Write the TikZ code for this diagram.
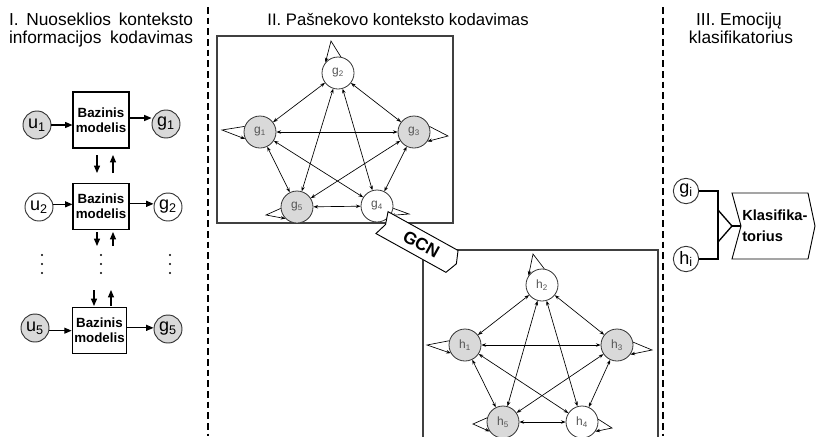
\documentclass[tikz,border=0pt]{standalone}
\usepackage{fontspec}
\setmainfont{Liberation Sans}
\usetikzlibrary{arrows.meta}

\definecolor{nodegray}{HTML}{D9D9D9}
\definecolor{linegray}{HTML}{333333}
\definecolor{labelgray}{HTML}{555555}

\tikzset{
  title/.style={font=\fontsize{13}{13}\selectfont, inner sep=0, anchor=base},
  seqnode/.style={circle, draw=linegray, line width=0.7pt, minimum size=21pt,
    inner sep=0, font=\fontsize{13.5}{13.5}\selectfont},
  grayfill/.style={fill=nodegray},
  basebox/.style={draw, line width=0.8pt, minimum width=42pt, minimum height=35pt,
    align=center, inner sep=0, font=\bfseries\fontsize{10}{11.5}\selectfont},
  seqarrow/.style={-{Triangle[length=5.5pt,width=4.5pt]}, line width=0.8pt},
  gnode/.style={circle, draw=linegray, line width=0.6pt, minimum size=24pt,
    inner sep=0, text=labelgray, font=\fontsize{9}{9}\selectfont},
  gedge/.style={{Stealth[length=3.5pt,width=2.6pt]}-{Stealth[length=3.5pt,width=2.6pt]},
    line width=0.5pt},
  gloop/.style={-{Stealth[length=3.5pt,width=2.6pt]}, line width=0.5pt},
  graphframe/.style={draw=black!75, line width=0.8pt},
  divider/.style={line width=1.5pt, dash pattern=on 5pt off 3pt},
  joinline/.style={line width=1pt},
}

\begin{document}
\begin{tikzpicture}[x=0.75pt, y=-0.75pt]
\useasboundingbox (0,0) rectangle (816,436);

% ---------- column dividers ----------
\coordinate (dv1t) at (208,7);  \coordinate (dv1b) at (208,436);
\coordinate (dv2t) at (663,7);  \coordinate (dv2b) at (663,436);
\draw[divider] (dv1t) -- (dv1b);
\draw[divider] (dv2t) -- (dv2b);

% ---------- titles ----------
\node[title] (t1a) at (101,25) {\makebox[138pt][s]{I. Nuoseklios konteksto}};
\node[title] (t1b) at (101,43) {\makebox[138pt][s]{informacijos kodavimas}};
\node[title, font=\fontsize{12.5}{12.5}\selectfont] (t2) at (398,25) {II. Pašnekovo konteksto kodavimas};
\node[title] (t3a) at (739,25) {III. Emocijų};
\node[title] (t3b) at (741,43) {klasifikatorius};

% ---------- I: sequential context encoding ----------
\node[seqnode,grayfill] (u1) at (37,125) {u\textsubscript{1}};
\node[basebox, minimum height=42pt] (b1) at (101,120) {Bazinis\\modelis};
\node[seqnode,grayfill] (o1) at (166,124) {g\textsubscript{1}};

\node[seqnode] (u2) at (39,207) {u\textsubscript{2}};
\node[basebox] (b2) at (101,206.5) {Bazinis\\modelis};
\node[seqnode] (o2) at (168,207) {g\textsubscript{2}};

\node[seqnode,grayfill] (u5) at (35,328) {u\textsubscript{5}};
\node[basebox, minimum width=41pt] (b3) at (99.5,330.5) {Bazinis\\modelis};
\node[seqnode,grayfill] (o5) at (168,329) {g\textsubscript{5}};

\draw[seqarrow] (u1.east) -- (u1.east -| b1.west);
\draw[seqarrow] ([yshift=1.5pt]b1.east) -- ([yshift=1.5pt]b1.east -| o1.west);
\draw[seqarrow] ([yshift=2pt]u2.east) -- ([yshift=2pt]u2.east -| b2.west);
\draw[seqarrow] ([yshift=2pt]b2.east) -- ([yshift=2pt]b2.east -| o2.west);
\draw[seqarrow] ([yshift=-2pt]u5.east) -- ([yshift=-2pt]u5.east -| b3.west);
\draw[seqarrow] ([yshift=2pt]b3.east) -- ([yshift=2pt]b3.east -| o5.west);

% links between the stacked base models
\coordinate (d1a) at (97,155);  \coordinate (d1b) at (97,173);
\coordinate (e1a) at (113,173); \coordinate (e1b) at (113,155);
\coordinate (d2a) at (97,232);  \coordinate (d2b) at (97,246);
\coordinate (e2a) at (113,246); \coordinate (e2b) at (113,232);
\coordinate (d3a) at (94,290);  \coordinate (d3b) at (94,306);
\coordinate (e3a) at (111,306); \coordinate (e3b) at (111,290);
\foreach \s in {d1,e1,d2,e2,d3,e3}
  \draw[seqarrow] (\s a) -- (\s b);

% vertical ellipses
\foreach \x in {42,101,170}
  \foreach \y in {255,264,273}
    \fill (\x,\y) circle (0.8pt);

% ---------- II: speaker context encoding (GCN input graph) ----------
\draw[graphframe] (217,36) rectangle (453,223);

\node[gnode]          (g2) at (338,73)  {g\textsubscript{2}};
\node[gnode,grayfill] (g1) at (260,132) {g\textsubscript{1}};
\node[gnode,grayfill] (g3) at (414,132) {g\textsubscript{3}};
\node[gnode,grayfill] (g5) at (297,207) {g\textsubscript{5}};
\node[gnode]          (g4) at (377,206) {g\textsubscript{4}};

\foreach \a/\b in {2/1,2/3,2/5,2/4,1/3,1/5,1/4,3/5,3/4,5/4}
  \draw[gedge] (g\a) -- (g\b);

\coordinate (lg2) at (331,41);
\coordinate (lg1) at (222,130);
\coordinate (lg3) at (448,136);
\coordinate (lg5) at (266,215);
\coordinate (lg4) at (409,214);
\draw[gloop] (g2.80)  -- (lg2) -- (g2.140);
\draw[gloop] (g1.160) -- (lg1) -- (g1.205);
\draw[gloop] (g3.20)  -- (lg3) -- (g3.-35);
\draw[gloop] (g5.185) -- (lg5) -- (g5.225);
\draw[gloop] (g4.-8)  -- (lg4) -- (g4.-35);

% ---------- output graph ----------
\coordinate (fr2a) at (423,440); \coordinate (fr2b) at (423,250);
\coordinate (fr2c) at (658,250); \coordinate (fr2d) at (658,440);
\draw[graphframe] (fr2a) -- (fr2b) -- (fr2c) -- (fr2d);

\node[gnode]          (h2) at (542,285) {h\textsubscript{2}};
\node[gnode,grayfill] (h1) at (465,345) {h\textsubscript{1}};
\node[gnode,grayfill] (h3) at (617,345) {h\textsubscript{3}};
\node[gnode,grayfill] (h5) at (503,422) {h\textsubscript{5}};
\node[gnode]          (h4) at (582,422) {h\textsubscript{4}};

\foreach \a/\b in {2/1,2/3,2/5,2/4,1/3,1/5,1/4,3/5,3/4,5/4}
  \draw[gedge] (h\a) -- (h\b);

\coordinate (lh2) at (533,254);
\coordinate (lh1) at (427,345);
\coordinate (lh3) at (652,350);
\coordinate (lh5) at (473,424);
\coordinate (lh4) at (612,428);
\draw[gloop] (h2.82)  -- (lh2) -- (h2.145);
\draw[gloop] (h1.165) -- (lh1) -- (h1.210);
\draw[gloop] (h3.10)  -- (lh3) -- (h3.-35);
\draw[gloop] (h5.165) -- (lh5) -- (h5.215);
\draw[gloop] (h4.10)  -- (lh4) -- (h4.-35);

% GCN arrow between the two graphs
\begin{scope}[shift={(417,242)}, rotate=-29]
  \draw[fill=white, line width=0.7pt]
    (-40,-12.5) -- (40,-12.5) -- (45,0) -- (40,12.5) -- (-40,12.5) -- (-36,0) -- cycle;
  \node[rotate=-29, inner sep=0, font=\bfseries\fontsize{13}{13}\selectfont] (gcn) at (5,0) {GCN};
\end{scope}

% ---------- III: emotion classifier ----------
\node[seqnode, minimum size=19pt] (gi) at (686,191) {g\textsubscript{i}};
\node[seqnode, minimum size=19pt] (hj) at (686,259) {h\textsubscript{i}};

\coordinate (jn)  at (718,226);
\coordinate (apx) at (732,226);
\coordinate (cin) at (741,226);
\draw[joinline] (gi.east) -| (jn) |- (hj.east);
\draw[joinline] ([yshift=-12pt]jn) -- (apx) -- ([yshift=12pt]jn);
\draw[joinline] (apx) -- (cin);

\draw[line width=0.7pt] (732,193) -- (808,193) -- (815,226) -- (808,259)
  -- (732,259) -- (cin) -- cycle;
\node[anchor=west, align=left, inner sep=0,
  font=\bfseries\fontsize{11}{15.5}\selectfont] (cls) at (742,226) {Klasifika-\\torius};

\end{tikzpicture}
\end{document}
